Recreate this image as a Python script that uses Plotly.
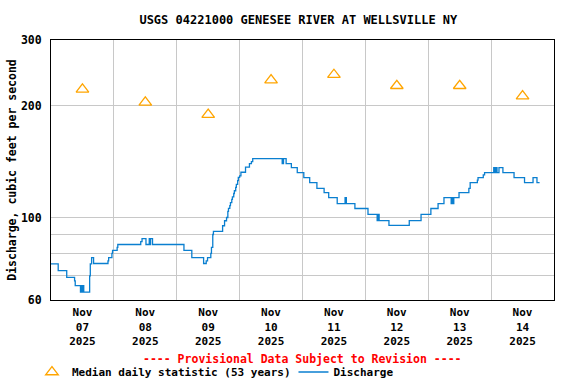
import plotly.graph_objects as go

title_text = "USGS 04221000 GENESEE RIVER AT WELLSVILLE NY"

median_days = ["2025-11-07 12:00", "2025-11-08 12:00", "2025-11-09 12:00", "2025-11-10 12:00",
               "2025-11-11 12:00", "2025-11-12 12:00", "2025-11-13 12:00", "2025-11-14 12:00"]
median_values = [221, 204, 189, 234, 242, 226, 226, 212]

q_times = [
    "2025-11-07 00:00", "2025-11-07 02:45", "2025-11-07 06:00", "2025-11-07 09:00", "2025-11-07 09:15",
    "2025-11-07 11:15", "2025-11-07 11:30", "2025-11-07 11:45", "2025-11-07 12:15", "2025-11-07 12:30",
    "2025-11-07 14:45", "2025-11-07 15:00", "2025-11-07 15:30", "2025-11-07 16:15", "2025-11-07 21:45",
    "2025-11-07 22:00", "2025-11-07 23:15", "2025-11-07 23:30", "2025-11-08 01:15", "2025-11-08 01:30",
    "2025-11-08 10:15", "2025-11-08 10:45", "2025-11-08 12:15", "2025-11-08 13:30", "2025-11-08 13:45",
    "2025-11-08 14:00", "2025-11-08 14:45", "2025-11-09 02:45", "2025-11-09 05:45", "2025-11-09 10:15",
    "2025-11-09 11:15", "2025-11-09 11:45", "2025-11-09 13:00", "2025-11-09 13:15", "2025-11-09 13:45",
    "2025-11-09 14:00", "2025-11-09 17:30", "2025-11-09 18:15", "2025-11-09 19:00", "2025-11-09 19:30",
    "2025-11-09 19:45", "2025-11-09 20:15", "2025-11-09 20:30", "2025-11-09 21:00", "2025-11-09 21:15",
    "2025-11-09 21:45", "2025-11-09 22:00", "2025-11-09 22:30", "2025-11-09 22:45", "2025-11-09 23:15",
    "2025-11-09 23:30", "2025-11-10 00:00", "2025-11-10 00:30", "2025-11-10 02:15", "2025-11-10 03:45",
    "2025-11-10 04:30", "2025-11-10 05:00", "2025-11-10 16:15", "2025-11-10 16:45", "2025-11-10 17:45",
    "2025-11-10 19:45", "2025-11-10 22:00", "2025-11-11 00:30", "2025-11-11 02:45", "2025-11-11 05:30",
    "2025-11-11 08:15", "2025-11-11 10:00", "2025-11-11 13:15", "2025-11-11 16:15", "2025-11-11 16:45",
    "2025-11-11 20:00", "2025-11-12 01:00", "2025-11-12 04:30", "2025-11-12 04:45", "2025-11-12 05:15",
    "2025-11-12 09:00", "2025-11-12 16:45", "2025-11-12 21:15", "2025-11-13 01:00", "2025-11-13 03:45",
    "2025-11-13 06:00", "2025-11-13 08:45", "2025-11-13 09:00", "2025-11-13 09:15", "2025-11-13 09:45",
    "2025-11-13 11:45", "2025-11-13 15:30", "2025-11-13 16:00", "2025-11-13 18:45", "2025-11-13 19:00",
    "2025-11-13 21:00", "2025-11-13 21:30", "2025-11-14 01:00", "2025-11-14 01:30", "2025-11-14 01:45",
    "2025-11-14 02:15", "2025-11-14 03:00", "2025-11-14 04:30", "2025-11-14 08:45", "2025-11-14 12:45",
    "2025-11-14 16:00", "2025-11-14 17:30", "2025-11-14 18:30",
]
q_values = [
    75, 72, 69, 67.5, 65.6,
    63, 65.6, 63, 65.6, 63,
    69.7, 75, 78, 75.2, 76.4,
    78, 80.1, 81.6, 83.1, 84.6,
    86.1, 87.7, 84.6, 87.7, 84.6,
    87.7, 84.6, 81.6, 78, 75.2,
    76.4, 78, 80.1, 83.1, 90,
    91.7, 95, 98, 100, 103.8,
    105.8, 107.6, 109.6, 111.8, 113.6,
    116, 118, 120.5, 122.8, 125.6,
    128.2, 129.3, 132.3, 136.6, 139.6,
    141.3, 144, 139.6, 144, 139.6,
    136.2, 132, 128, 124.1, 119.7,
    116.7, 113.1, 109, 113.1, 109,
    105.7, 101.9, 98.1, 101.9, 98.1,
    95.2, 98.1, 101.9, 105.7, 109,
    113.1, 109, 113.1, 109, 113.1,
    116.7, 119.7, 124.1, 126, 128,
    130.2, 132, 136.2, 132, 136.2,
    132, 136.2, 132, 128, 124.1,
    128, 124.1, 124.1,
]

y_tickvals = [60, 70, 80, 90, 100, 200, 300]
y_ticktext = ["60", "", "", "", "100", "200", "300"]

FONT = "DejaVu Sans Mono"

fig = go.Figure()
fig.add_trace(go.Scatter(
    x=median_days, y=median_values, mode="markers",
    name="Median daily statistic (53 years)", legend="legend",
    marker=dict(symbol="triangle-up-open", size=11, color="#ffa500", line=dict(width=1.3, color="#ffa500")),
))
fig.add_trace(go.Scatter(
    x=q_times, y=q_values, mode="lines", line_shape="hv",
    name="Discharge", legend="legend2", line=dict(color="#0a7fd0", width=1.3),
))

leg_common = dict(orientation="h", yanchor="middle", y=-0.277, xanchor="left",
                  font=dict(family=FONT, size=11, weight="bold"), itemwidth=30,
                  bgcolor="rgba(0,0,0,0)", borderwidth=0)

fig.update_layout(
    width=576, height=384,
    margin=dict(l=51, r=22, t=40, b=84, autoexpand=False),
    paper_bgcolor="white", plot_bgcolor="white",
    font=dict(family=FONT, size=11.5, color="black", weight="bold"),
    title=dict(text=title_text, x=0.518, xanchor="center", y=0.948, yanchor="middle",
               font=dict(family=FONT, size=12, weight="bold")),
    showlegend=True,
    legend=dict(x=(32 - 51) / 502, **leg_common),
    legend2=dict(x=(293 - 51) / 502, **leg_common),
    annotations=[
        dict(text="---- Provisional Data Subject to Revision ----", xref="paper", yref="paper",
             x=0.5, y=-0.227, xanchor="center", yanchor="middle", showarrow=False,
             font=dict(family=FONT, size=11.5, color="red", weight="bold")),
        dict(text="Discharge, cubic feet per second", xref="paper", yref="paper",
             x=-0.078, y=0.5, xanchor="center", yanchor="middle", textangle=-90, showarrow=False,
             font=dict(family=FONT, size=11.5, color="black", weight="bold")),
    ],
)

fig.update_xaxes(
    type="date", range=["2025-11-07 00:00", "2025-11-15 00:00"],
    dtick=86400000, tick0="2025-11-07", tickformat="%b<br>%d<br>%Y", ticklabelmode="period",
    showgrid=True, gridcolor="#c8c8c8", gridwidth=1, automargin=False,
    showline=True, mirror=True, linecolor="black", linewidth=1, ticks="",
    ticklabelstandoff=2,
    tickfont=dict(family=FONT, size=11, weight="bold"),
)
fig.update_yaxes(
    type="log", range=[1.77815, 2.47712],
    tickvals=y_tickvals, ticktext=y_ticktext,
    showgrid=True, gridcolor="#c8c8c8", gridwidth=1, automargin=False,
    showline=True, mirror=True, linecolor="black", linewidth=1, ticks="",
    ticklabelstandoff=6,
    tickfont=dict(family=FONT, size=11.5, weight="bold"),
)

fig.write_html("out.html", config={"displayModeBar": False},
               post_script="document.body.style.margin='0';")
